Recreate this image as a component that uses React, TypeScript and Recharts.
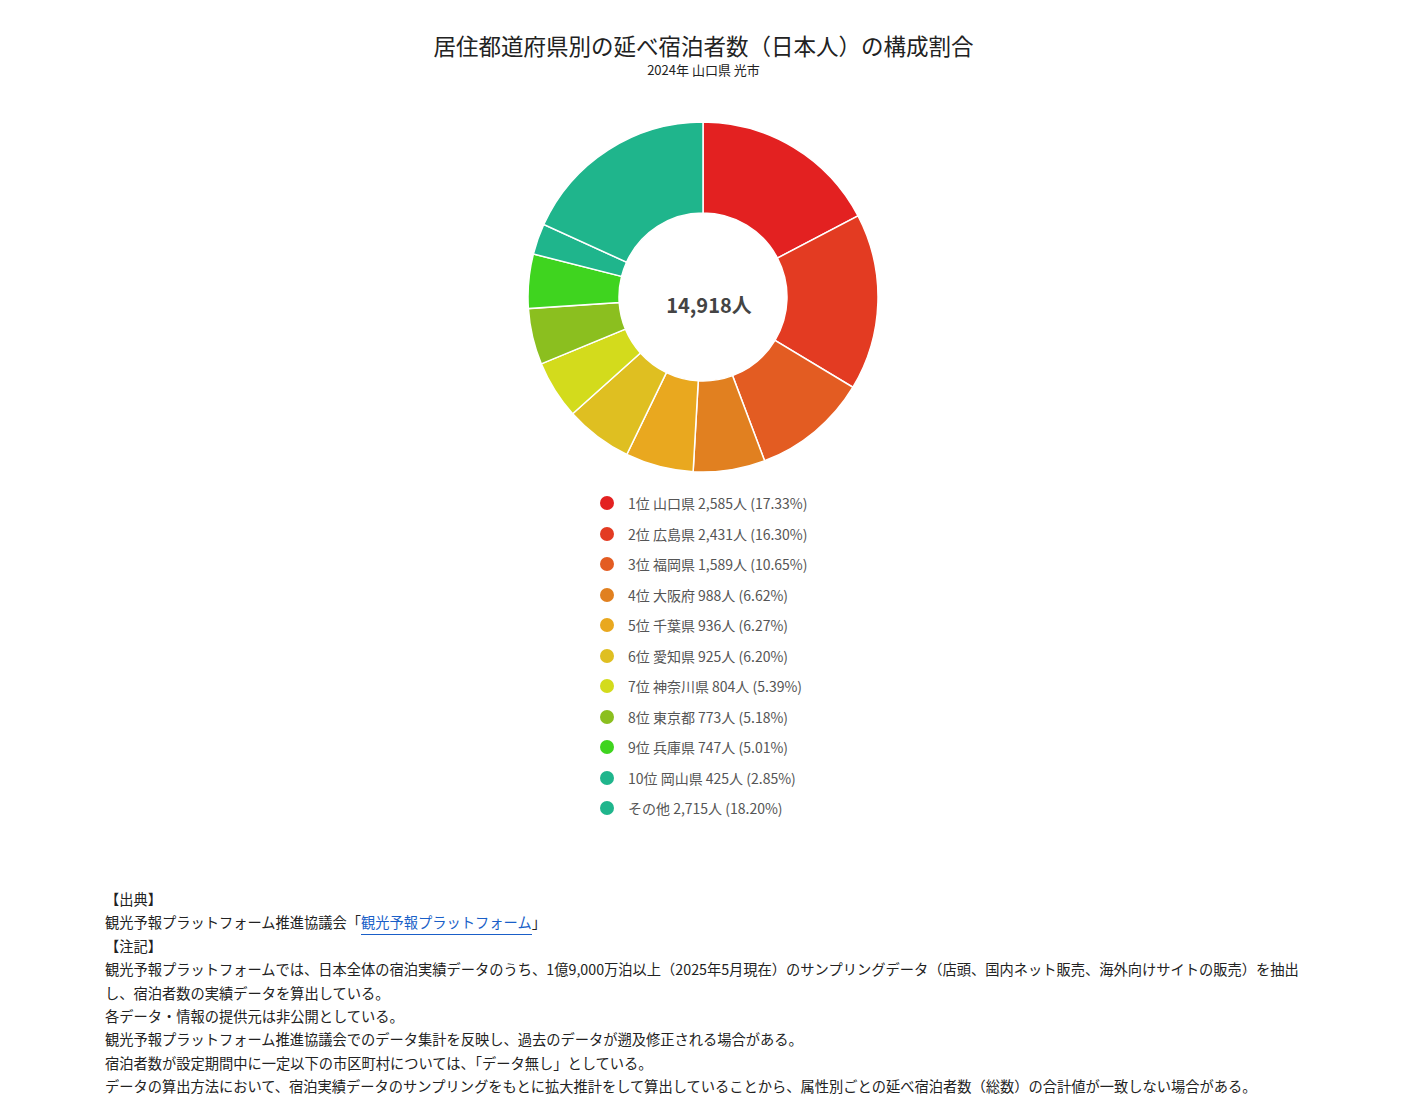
import React from "react";
import { PieChart, Pie, Cell, Legend, Label } from "recharts";

// 居住都道府県別の延べ宿泊者数（日本人） 2024年 山口県 光市
const ranks = ["1位", "2位", "3位", "4位", "5位", "6位", "7位", "8位", "9位", "10位", ""];
const prefectures = [
  "山口県",
  "広島県",
  "福岡県",
  "大阪府",
  "千葉県",
  "愛知県",
  "神奈川県",
  "東京都",
  "兵庫県",
  "岡山県",
  "その他",
];
const guests = [2585, 2431, 1589, 988, 936, 925, 804, 773, 747, 425, 2715];
const colors = [
  "#e32121",
  "#e33b22",
  "#e35c22",
  "#e18020",
  "#e9a81f",
  "#dfbf21",
  "#d3db1c",
  "#8bbf1f",
  "#3fd41f",
  "#1fb58c",
  "#1fb58c",
];

const total = guests.reduce((a, b) => a + b, 0);

const data = prefectures.map((name, i) => ({
  name,
  rank: ranks[i],
  value: guests[i],
  color: colors[i],
}));

const notes = [
  "観光予報プラットフォームでは、日本全体の宿泊実績データのうち、1億9,000万泊以上（2025年5月現在）のサンプリングデータ（店頭、国内ネット販売、海外向けサイトの販売）を抽出",
  "し、宿泊者数の実績データを算出している。",
  "各データ・情報の提供元は非公開としている。",
  "観光予報プラットフォーム推進協議会でのデータ集計を反映し、過去のデータが遡及修正される場合がある。",
  "宿泊者数が設定期間中に一定以下の市区町村については、「データ無し」としている。",
  "データの算出方法において、宿泊実績データのサンプリングをもとに拡大推計をして算出していることから、属性別ごとの延べ宿泊者数（総数）の合計値が一致しない場合がある。",
];

const FONT = '"Noto Sans CJK JP", "Noto Sans", sans-serif';

const legendText = (d: { name: string; rank: string; value: number }) => {
  const pct = ((d.value / total) * 100).toFixed(2);
  const head = d.rank ? `${d.rank} ${d.name}` : d.name;
  return `${head} ${d.value.toLocaleString()}人 (${pct}%)`;
};

const renderLegend = () => (
  <div style={{ fontFamily: FONT }}>
    {data.map((d) => (
      <div
        key={d.name}
        style={{ display: "flex", alignItems: "center", height: 30.5 }}
      >
        <span
          style={{
            width: 14,
            height: 14,
            borderRadius: "50%",
            background: d.color,
            marginRight: 14,
            flexShrink: 0,
          }}
        />
        <span style={{ fontSize: 14, color: "#555" }}>{legendText(d)}</span>
      </div>
    ))}
  </div>
);

const App: React.FC = () => {
  return (
    <div style={{ position: "relative", width: 1391, height: 1090, fontFamily: FONT }}>
      <div
        style={{
          position: "absolute",
          top: 22,
          left: 0,
          width: 1391,
          textAlign: "center",
          fontSize: 22.5,
          color: "#222",
          lineHeight: "30px",
        }}
      >
        居住都道府県別の延べ宿泊者数（日本人）の構成割合
      </div>
      <div
        style={{
          position: "absolute",
          top: 53,
          left: 0,
          width: 1391,
          textAlign: "center",
          fontSize: 13,
          color: "#222",
          lineHeight: "18px",
        }}
      >
        2024年 山口県 光市
      </div>

      <div style={{ position: "absolute", top: 0, left: 0 }}>
        <PieChart
          width={1391}
          height={840}
          margin={{ top: 0, right: 0, bottom: 0, left: 0 }}
        >
          <Pie
            data={data}
            dataKey="value"
            nameKey="name"
            cx={695}
            cy={289}
            innerRadius={84}
            outerRadius={175}
            startAngle={90}
            endAngle={-270}
            stroke="#ffffff"
            strokeWidth={1.5}
            isAnimationActive={false}
          >
            {data.map((d) => (
              <Cell key={d.name} fill={d.color} />
            ))}
            <Label
              content={({ viewBox }: any) => (
                <text
                  x={(viewBox?.cx ?? 695) + 6}
                  y={(viewBox?.cy ?? 289) + 7}
                  textAnchor="middle"
                  dominantBaseline="central"
                  fontFamily={FONT}
                  fontSize={20}
                  fontWeight="bold"
                  fill="#444"
                >
                  {total.toLocaleString()}人
                </text>
              )}
            />
          </Pie>
          <Legend
            layout="vertical"
            content={renderLegend}
            wrapperStyle={{ left: 592, top: 480, width: 300, bottom: "auto" }}
          />
        </PieChart>
      </div>

      <div
        style={{
          position: "absolute",
          top: 879,
          left: 97,
          fontSize: 14.25,
          lineHeight: "23.4px",
          color: "#222",
          whiteSpace: "nowrap",
        }}
      >
        <div>【出典】</div>
        <div>
          観光予報プラットフォーム推進協議会「
          <span
            style={{
              color: "#1a5fc8",
              borderBottom: "1px solid #1a5fc8",
              paddingBottom: 2,
            }}
          >
            観光予報プラットフォーム
          </span>
          」
        </div>
        <div>【注記】</div>
        {notes.map((n) => (
          <div key={n}>{n}</div>
        ))}
      </div>
    </div>
  );
};

export default App;
